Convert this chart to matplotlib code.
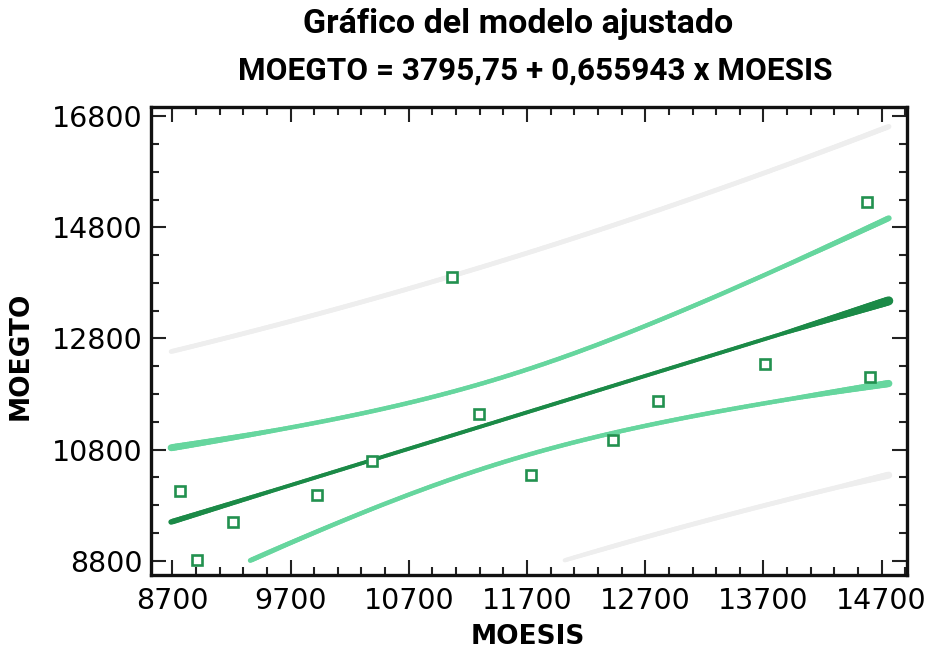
import matplotlib.pyplot as plt
import numpy as np
from matplotlib.collections import LineCollection
from matplotlib.ticker import MultipleLocator

# observed pairs
moesis = np.array([8765, 8911, 9210, 9925, 10390, 11066, 11292, 11731,
                   12430, 12805, 13715, 14579, 14602])
moegto = np.array([10047, 8804, 9488, 9980, 10587, 13908, 11434, 10346,
                   10977, 11674, 12335, 15254, 12101])

# fitted model from the title
intercept = 3795.75
slope = 0.655943
t_crit = 2.201          # t(0.975, n-2 = 11)
x_span = (8690, 14760)  # range covered by the curves
y_floor = 8800          # curves are not drawn below this value

c_fit = "#1b8a47"
c_conf = "#66d69e"
c_pred = "#eeeeee"
c_pts = "#22914f"

# ----- band computations -----
n = len(moesis)
resid = moegto - (intercept + slope * moesis)
s = np.sqrt(np.sum(resid ** 2) / (n - 2))
x_bar = moesis.mean()
sxx = np.sum((moesis - x_bar) ** 2)

xs = np.linspace(x_span[0], x_span[1], 300)
fit = intercept + slope * xs
lev = 1.0 / n + (xs - x_bar) ** 2 / sxx
conf_hw = t_crit * s * np.sqrt(lev)
pred_hw = t_crit * s * np.sqrt(1.0 + lev)


def brush(ax, x, y, color, w_start, w_mid, w_end, z):
    """Draw a curve whose stroke width swells at the ends, like a marker pen."""
    keep = y >= y_floor
    x, y = x[keep], y[keep]
    u = np.linspace(0, 1, len(x) - 1)
    widths = np.interp(u, [0, 0.15, 0.85, 1], [w_start, w_mid, w_mid, w_end])
    pts = np.column_stack([x, y]).reshape(-1, 1, 2)
    segs = np.concatenate([pts[:-1], pts[1:]], axis=1)
    lc = LineCollection(segs, colors=color, linewidths=widths,
                        capstyle="round", joinstyle="round", zorder=z)
    ax.add_collection(lc)


fig = plt.figure(figsize=(9.31, 6.49), dpi=100)
ax = fig.add_axes([0.1622, 0.1133, 0.8120, 0.7226])

brush(ax, xs, fit + pred_hw, c_pred, 3.4, 3.4, 3.8, 1)
brush(ax, xs, fit - pred_hw, c_pred, 3.0, 3.4, 5.0, 1)
brush(ax, xs, fit + conf_hw, c_conf, 5.0, 3.2, 4.2, 2)
brush(ax, xs, fit - conf_hw, c_conf, 3.6, 3.2, 5.2, 2)
brush(ax, xs, fit, c_fit, 4.0, 2.8, 6.5, 3)

ax.plot(moesis, moegto, linestyle="none", marker="s", markersize=7,
        markerfacecolor="white", markeredgecolor=c_pts, markeredgewidth=1.9, zorder=4)

ax.set_xlim(8520, 14914)
ax.set_ylim(8533, 16977)
ax.xaxis.set_major_locator(MultipleLocator(1000, offset=700))
ax.xaxis.set_minor_locator(MultipleLocator(200, offset=100))
ax.yaxis.set_major_locator(MultipleLocator(2000, offset=800))
ax.yaxis.set_minor_locator(MultipleLocator(500, offset=300))

ax.tick_params(which="both", direction="in", top=True, right=True,
               width=1.5, color="#222222")
ax.tick_params(which="major", length=11, labelsize=20.5, pad=8)
ax.tick_params(axis="y", which="major", pad=6)
ax.tick_params(which="minor", length=6)
for sp in ax.spines.values():
    sp.set_linewidth(2.4)
    sp.set_color("#111111")

fig.text(528 / 931, 1 - 637 / 649, "MOESIS", ha="center", va="center",
         fontsize=19, fontweight="bold")
fig.text(21 / 931, 1 - 356 / 649, "MOEGTO", ha="center", va="center",
         rotation=90, fontsize=19, fontweight="bold")

fig.text(518 / 931, 1 - 33 / 649, "Gráfico del modelo ajustado",
         ha="center", va="baseline", fontsize=24.5, fontweight="bold",
         family="Roboto")
fig.text(535 / 931, 1 - 80 / 649, "MOEGTO = 3795,75 + 0,655943 x MOESIS",
         ha="center", va="baseline", fontsize=22.7, fontweight="bold",
         family="Roboto")

fig.savefig("out.png", dpi=100)
